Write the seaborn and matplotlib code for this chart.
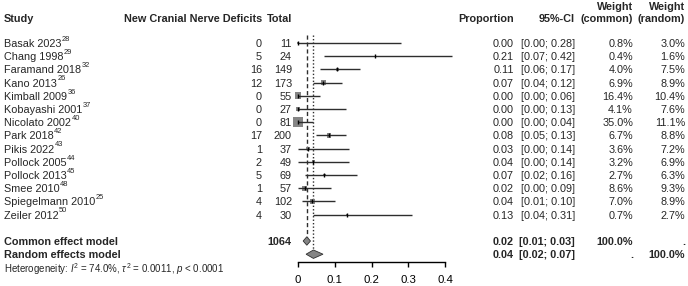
import pandas as pd
import matplotlib
matplotlib.use("Agg")
import matplotlib.pyplot as plt
import seaborn as sns

# Forest plot: proportion of new cranial nerve deficits

studies = ["Basak 2023", "Chang 1998", "Faramand 2018", "Kano 2013", "Kimball 2009",
           "Kobayashi 2001", "Nicolato 2002", "Park 2018", "Pikis 2022", "Pollock 2005",
           "Pollock 2013", "Smee 2010", "Spiegelmann 2010", "Zeiler 2012"]
refs = ["28", "29", "32", "26", "36", "37", "40", "42", "43", "44", "45", "48", "25", "50"]
events = [0, 5, 16, 12, 0, 0, 0, 17, 1, 2, 5, 1, 4, 4]
totals = [11, 24, 149, 173, 55, 27, 81, 200, 37, 49, 69, 57, 102, 30]
prop = [0.00, 0.21, 0.107, 0.069, 0.00, 0.00, 0.00, 0.084, 0.027, 0.041, 0.072, 0.018, 0.039, 0.133]
ci_lo = [0.00, 0.07, 0.06, 0.04, 0.00, 0.00, 0.00, 0.05, 0.00, 0.00, 0.02, 0.00, 0.01, 0.04]
ci_hi = [0.28, 0.42, 0.17, 0.12, 0.06, 0.13, 0.04, 0.13, 0.14, 0.14, 0.16, 0.09, 0.10, 0.31]
w_common = [0.8, 0.4, 4.0, 6.9, 16.4, 4.1, 35.0, 6.7, 3.6, 3.2, 2.7, 8.6, 7.0, 0.7]
w_random = [3.0, 1.6, 7.5, 8.9, 10.4, 7.6, 11.1, 8.8, 7.2, 6.9, 6.3, 9.3, 8.9, 2.7]

pooled_names = ["Common effect model", "Random effects model"]
pooled_est = [0.024, 0.042]
pooled_lo = [0.014, 0.022]
pooled_hi = [0.034, 0.068]
pooled_wc = ["100.0%", "."]
pooled_wr = [".", "100.0%"]
hetero = r"Heterogeneity: $I^2$ = 74.0%, $\tau^2$ = 0.0011, $p$ < 0.0001"
xticks = [0, 0.1, 0.2, 0.3, 0.4]
xtick_labels = ["0", "0.1", "0.2", "0.3", "0.4"]

sns.set_style("white")
plt.rcParams['font.family'] = ['Liberation Sans', 'DejaVu Sans']
plt.rcParams['mathtext.fontset'] = 'custom'
plt.rcParams['mathtext.rm'] = 'Liberation Sans'
plt.rcParams['mathtext.it'] = 'Liberation Sans:italic'
plt.rcParams['mathtext.bf'] = 'Liberation Sans:bold'

W, H = 688, 286
x0_px, px_per_unit = 298, 367.5      # x=0 at pixel 298, 0.4 at ~445
row0_px, row_px = 43, 13.2


def row(py):
    return (py - row0_px) / row_px


def fx(px):
    return px / W


fig = plt.figure(figsize=(W / 100, H / 100), dpi=100)
ax = fig.add_axes([0, (H - 262) / H, 1, 262 / H])
ax.set_xlim(-x0_px / px_per_unit, (W - x0_px) / px_per_unit)
ax.set_ylim(row(262), row(0))

df = pd.DataFrame({"study": studies, "prop": prop, "lo": ci_lo, "hi": ci_hi,
                   "wc": w_common, "row": range(len(studies))})

line_col = "#2e2e2e"
box_col = "#858585"

# weight squares
sns.scatterplot(data=df, x="prop", y="row", size="wc", sizes=(0, 52), size_norm=(0, 35),
                marker="s", color=box_col, linewidth=0, legend=False, ax=ax, zorder=2)
ax.hlines(df["row"], df["lo"], df["hi"], color=line_col, lw=1.0, zorder=3)
ax.plot(df["prop"], df["row"], "|", color="black", ms=3, mew=1.0, zorder=4)

# pooled diamonds
n = len(studies)
prow = [n + 1, n + 2]
hh = 0.32
for r, e, lo, hi in zip(prow, pooled_est, pooled_lo, pooled_hi):
    ax.fill([lo, e, hi, e], [r, r - hh, r, r + hh], facecolor=box_col,
            edgecolor=line_col, lw=0.6, zorder=3)

top = row(35)
ax.vlines(pooled_est[0], top, prow[0] - hh, color=line_col, lw=1.0,
          linestyles=(0, (3, 2)), zorder=1)
ax.vlines(pooled_est[1], top, prow[1] - hh, color=line_col, lw=1.0,
          linestyles=(0, (1, 1.5)), zorder=1)

# axis
for s in ["top", "left", "right"]:
    ax.spines[s].set_visible(False)
ax.spines["bottom"].set_bounds(0, 0.4)
ax.spines["bottom"].set_color("black")
ax.spines["bottom"].set_linewidth(1.0)
ax.set_xticks(xticks)
ax.set_xticklabels(xtick_labels)
ax.set_yticks([])
ax.set_xlabel("")
ax.set_ylabel("")
ax.tick_params(axis="x", direction="out", length=3.6, width=1.0, pad=5.8,
               labelsize=8.2, colors="black", bottom=True)

# text columns
tr = ax.get_yaxis_transform()
fs = 7.8
kw = dict(transform=tr, fontsize=fs, va="center_baseline", clip_on=False)

hy = row(18)
ax.text(fx(4), hy, "Study", ha="left", weight="bold", **kw)
ax.text(fx(262), hy, "New Cranial Nerve Deficits", ha="right", weight="bold", **kw)
ax.text(fx(292), hy, "Total", ha="right", weight="bold", **kw)
ax.text(fx(514), hy, "Proportion", ha="right", weight="bold", **kw)
ax.text(fx(575), hy, "95%-CI", ha="right", weight="bold", **kw)
ax.text(fx(633), row(6), "Weight", ha="right", weight="bold", **kw)
ax.text(fx(633), hy, "(common)", ha="right", weight="bold", **kw)
ax.text(fx(685), row(6), "Weight", ha="right", weight="bold", **kw)
ax.text(fx(685), hy, "(random)", ha="right", weight="bold", **kw)

name_texts = []
for i in range(n):
    name_texts.append(ax.text(fx(4), i, studies[i], ha="left", **kw))
    ax.text(fx(262), i, str(events[i]), ha="right", **kw)
    ax.text(fx(292), i, str(totals[i]), ha="right", **kw)
    ax.text(fx(514), i, f"{prop[i]:.2f}", ha="right", **kw)
    ax.text(fx(575), i, f"[{ci_lo[i]:.2f}; {ci_hi[i]:.2f}]", ha="right", **kw)
    ax.text(fx(633), i, f"{w_common[i]:.1f}%", ha="right", **kw)
    ax.text(fx(685), i, f"{w_random[i]:.1f}%", ha="right", **kw)

# superscript reference numbers right after each study name
renderer = fig.canvas.get_renderer()
for i, t in enumerate(name_texts):
    x1 = t.get_window_extent(renderer).x1
    ax.text(fx(x1 + 0.5), i - 0.36, refs[i], ha="left", transform=tr, fontsize=5.4,
            va="center_baseline", clip_on=False)

for j, r in enumerate(prow):
    ax.text(fx(4), r, pooled_names[j], ha="left", weight="bold", **kw)
    ax.text(fx(514), r, f"{pooled_est[j]:.2f}", ha="right", weight="bold", **kw)
    ax.text(fx(575), r, f"[{pooled_lo[j]:.2f}; {pooled_hi[j]:.2f}]", ha="right",
            weight="bold", **kw)
    ax.text(fx(633), r, pooled_wc[j], ha="right", weight="bold", **kw)
    ax.text(fx(685), r, pooled_wr[j], ha="right", weight="bold", **kw)
ax.text(fx(292), prow[0], str(sum(totals)), ha="right", weight="bold", **kw)

ax.text(fx(4), row(267), hetero, ha="left", transform=tr, fontsize=7.0,
        va="center_baseline", clip_on=False)

fig.savefig("out.png", dpi=100)
